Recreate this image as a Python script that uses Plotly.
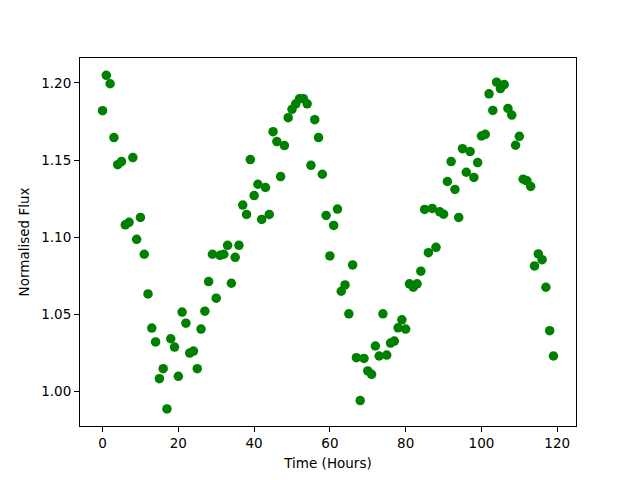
import plotly.graph_objects as go

hours = list(range(120))
flux = [
    1.182, 1.205, 1.1995, 1.1646, 1.147, 1.149, 1.108, 1.1096, 1.1516, 1.0986,
    1.1128, 1.0889, 1.0632, 1.041, 1.032, 1.0082, 1.0147, 0.9886, 1.0341, 1.0287,
    1.0097, 1.0514, 1.0442, 1.0248, 1.0261, 1.0147, 1.0404, 1.052, 1.0712, 1.0889,
    1.0604, 1.0882, 1.0889, 1.0947, 1.0701, 1.0869, 1.0947, 1.1208, 1.1147, 1.1503,
    1.127, 1.1343, 1.1115, 1.1322, 1.1147, 1.1684, 1.162, 1.1393, 1.1594, 1.1775,
    1.1829, 1.1865, 1.1898, 1.1898, 1.1865, 1.1466, 1.1762, 1.1646, 1.1408, 1.1141,
    1.0878, 1.1076, 1.1182, 1.0649, 1.069, 1.0503, 1.082, 1.0218, 0.994, 1.0213,
    1.0132, 1.011, 1.0294, 1.0229, 1.0503, 1.0235, 1.0313, 1.0326, 1.0412, 1.0464,
    1.0404, 1.0697, 1.0675, 1.0697, 1.0779, 1.118, 1.0899, 1.1186, 1.0934, 1.1164,
    1.1149, 1.1361, 1.149, 1.1309, 1.1128, 1.1574, 1.1421, 1.1555, 1.1387, 1.1484,
    1.1656, 1.1667, 1.193, 1.1822, 1.2005, 1.1964, 1.199, 1.1835, 1.1792, 1.1596,
    1.1654, 1.1376, 1.1365, 1.1329, 1.0813, 1.0891, 1.0854, 1.0675, 1.0393, 1.0229,
]
x_ticks = [0, 20, 40, 60, 80, 100, 120]
y_ticks = [1.00, 1.05, 1.10, 1.15, 1.20]

fig = go.Figure()
fig.add_trace(go.Scatter(
    x=hours, y=flux, mode="markers",
    marker=dict(color="#008000", size=9.5, line=dict(width=0)),
    showlegend=False,
))

font = dict(family="DejaVu Sans", size=13.5, color="black")
axis_common = dict(
    showline=True, linecolor="black", linewidth=1, mirror=True,
    ticks="outside", ticklen=5, tickwidth=1, tickcolor="black",
    showgrid=False, zeroline=False, tickfont=font, automargin=False,
)
fig.update_layout(
    width=640, height=480,
    margin=dict(l=72, r=72, t=50, b=62),
    paper_bgcolor="white", plot_bgcolor="white",
    font=font,
    xaxis=dict(range=[-5.95, 124.95], tickvals=x_ticks,
               title=dict(text="Time (Hours)", font=font, standoff=8), **axis_common),
    yaxis=dict(range=[0.9775, 1.2162], tickvals=y_ticks, tickformat=".2f",
               title=dict(text="Normalised Flux", font=font, standoff=8), **axis_common),
)
fig.write_html("out.html")
